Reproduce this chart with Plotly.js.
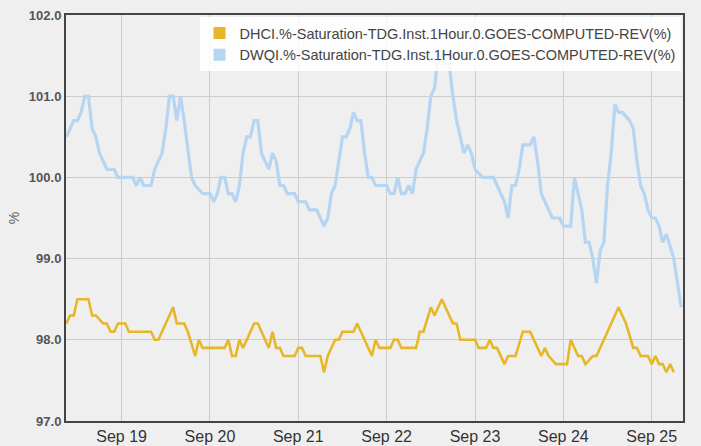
<!DOCTYPE html>
<html>
<head>
<meta charset="utf-8">
<script src="https://cdn.plot.ly/plotly-3.0.1.min.js"></script>
<style>
  html, body { margin: 0; padding: 0; background: #efefef; }
  #chart { width: 701px; height: 446px; }
</style>
</head>
<body>
<div id="chart"></div>
<script>
// Series names
const nameDHCI = 'DHCI.%-Saturation-TDG.Inst.1Hour.0.GOES-COMPUTED-REV(%)';
const nameDWQI = 'DWQI.%-Saturation-TDG.Inst.1Hour.0.GOES-COMPUTED-REV(%)';

// Hours relative to Sep 19 00:00 and readings (%)
const dwqiHours = [-15,-14,-13,-12,-11,-10,-9,-8,-7,-6,-4,-2,-1,3,4,5,6,8,9,11,12,13,14,15,16,17,19,20,22,24,25,26,27,28,29,30,31,32,33,34,35,36,37,38,39,40,41,42,43,44,45,47,48,50,51,53,54,55,56,57,58,59,60,61,62,63,64,65,66,67,68,69,72,73,74,75,76,77,78,79,80,81,82,83,84,85,86,87,88,89,90,91,93,94,95,96,98,99,101,102,104,105,106,107,108,109,111,112,113,114,116,117,119,120,122,123,125,126,127,128,129,130,131,132,133,134,135,136,138,139,140,141,142,143,144,145,146,147,148,150,151,152];
const dwqiValues = [100.5,100.6,100.7,100.7,100.8,101.0,101.0,100.6,100.5,100.3,100.1,100.1,100.0,100.0,99.9,100.0,99.9,99.9,100.1,100.3,100.6,101.0,101.0,100.7,101.0,100.7,100.0,99.9,99.8,99.8,99.7,99.8,100.0,100.0,99.8,99.8,99.7,99.9,100.3,100.5,100.5,100.7,100.7,100.3,100.2,100.1,100.3,100.2,99.9,99.9,99.8,99.8,99.7,99.7,99.6,99.6,99.5,99.4,99.5,99.8,99.9,100.2,100.5,100.5,100.6,100.8,100.7,100.7,100.3,100.0,100.0,99.9,99.9,99.8,99.8,100.0,99.8,99.8,99.9,99.8,100.1,100.2,100.3,100.6,101.0,101.1,101.5,101.5,101.4,101.4,101.0,100.7,100.3,100.4,100.3,100.1,100.0,100.0,100.0,99.9,99.7,99.5,99.9,99.9,100.1,100.4,100.4,100.5,100.2,99.8,99.6,99.5,99.5,99.4,99.4,100.0,99.6,99.2,99.2,99.0,98.7,99.1,99.2,99.9,100.3,100.9,100.8,100.8,100.7,100.6,100.2,99.9,99.8,99.6,99.5,99.5,99.4,99.2,99.3,99.0,98.7,98.4];

const dhciHours = [-15,-14,-13,-12,-9,-8,-7,-5,-4,-3,-2,-1,1,2,8,9,10,14,15,17,18,20,21,22,28,29,30,31,32,33,35,36,37,39,40,41,42,43,44,47,48,49,50,54,55,56,58,59,60,63,64,66,67,68,69,70,73,74,75,76,80,81,82,84,85,87,89,90,91,92,96,97,99,100,101,102,104,105,107,109,111,112,114,115,116,118,121,122,124,125,126,128,129,135,137,139,140,141,143,144,145,146,147,148,149,150];
const dhciValues = [98.2,98.3,98.3,98.5,98.5,98.3,98.3,98.2,98.2,98.1,98.1,98.2,98.2,98.1,98.1,98.0,98.0,98.4,98.2,98.2,98.1,97.8,98.0,97.9,97.9,98.0,97.8,97.8,98.0,97.9,98.1,98.2,98.2,98.0,97.9,98.1,97.9,97.9,97.8,97.8,97.9,97.9,97.8,97.8,97.6,97.8,98.0,98.0,98.1,98.1,98.2,98.0,97.9,97.8,98.0,97.9,97.9,98.0,98.0,97.9,97.9,98.1,98.1,98.4,98.3,98.5,98.3,98.2,98.2,98.0,98.0,97.9,97.9,98.0,97.9,97.9,97.7,97.8,97.8,98.1,98.1,98.0,97.8,97.9,97.8,97.7,97.7,98.0,97.8,97.8,97.7,97.8,97.8,98.4,98.2,97.9,97.9,97.8,97.8,97.7,97.8,97.7,97.7,97.6,97.7,97.6];

const yTickValues = [97, 98, 99, 100, 101, 102];
const yTickLabels = ['97.0', '98.0', '99.0', '100.0', '101.0', '102.0'];
const xRangeHours = [-15.1, 152.5];

const base = Date.UTC(2023, 8, 19, 0, 0, 0);
const toTime = h => base + h * 3600000;

const colorDHCI = '#e6b729';
const colorDWQI = '#b5d5f2';

const traces = [
  { type: 'scatter', mode: 'lines', x: dwqiHours.map(toTime), y: dwqiValues,
    line: { color: colorDWQI, width: 3.2 }, showlegend: false, legendgroup: 'b', hoverinfo: 'x+y' },
  { type: 'scatter', mode: 'lines', x: dhciHours.map(toTime), y: dhciValues,
    line: { color: colorDHCI, width: 2.6 }, showlegend: false, legendgroup: 'a', hoverinfo: 'x+y' },
  { type: 'bar', x: [null], y: [null], name: nameDHCI, marker: { color: colorDHCI }, legendgroup: 'a' },
  { type: 'bar', x: [null], y: [null], name: nameDWQI, marker: { color: colorDWQI }, legendgroup: 'b' }
];

const layout = {
  width: 701, height: 446,
  margin: { l: 66, r: 18, t: 15, b: 25 },
  paper_bgcolor: '#efefef',
  plot_bgcolor: '#efefef',
  font: { family: 'Arial, Liberation Sans, sans-serif', color: '#444' },
  showlegend: true,
  legend: {
    x: 0.996, y: 0.995, xanchor: 'right', yanchor: 'top',
    bgcolor: 'rgba(255,255,255,0.85)',
    font: { size: 14.5, color: '#444', family: 'Arial, Liberation Sans, sans-serif' },
    traceorder: 'normal', tracegroupgap: 0, itemsizing: 'constant', itemwidth: 30
  },
  xaxis: {
    type: 'date',
    range: xRangeHours.map(toTime),
    tick0: base, dtick: 86400000,
    tickformat: '%b %d',
    showgrid: true, gridcolor: '#cccccc', gridwidth: 1,
    showline: true, linecolor: '#444', linewidth: 2, mirror: true,
    ticks: '', ticklabelstandoff: 0,
    tickfont: { size: 16, color: '#333' },
    zeroline: false
  },
  yaxis: {
    range: [97, 102],
    tickmode: 'array', tickvals: yTickValues, ticktext: yTickLabels,
    showgrid: true, gridcolor: '#cccccc', gridwidth: 1,
    showline: true, linecolor: '#444', linewidth: 2, mirror: true,
    ticks: '',
    tickfont: { size: 13, color: '#555', weight: 'bold' },
    title: { text: '%', font: { size: 14, color: '#666' }, standoff: 6 },
    zeroline: false
  }
};

Plotly.newPlot('chart', traces, layout, { displayModeBar: false, staticPlot: true });
</script>
</body>
</html>
